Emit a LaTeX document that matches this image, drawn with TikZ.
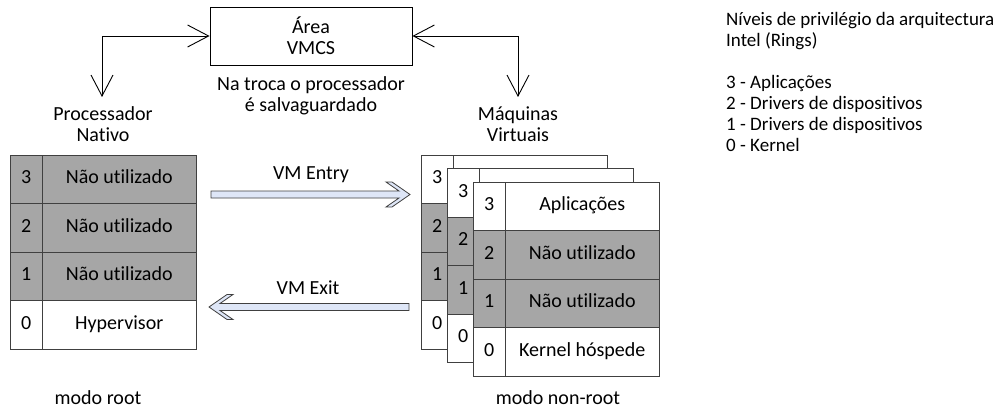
\documentclass[tikz,border=0pt]{standalone}
\usepackage{fontspec}
\setmainfont{Carlito}[Ligatures=NoCommon]
\usetikzlibrary{positioning, arrows.meta}
\definecolor{rowgray}{RGB}{166,166,166}
\definecolor{edgegray}{RGB}{64,64,64}
\definecolor{arrowfill}{RGB}{222,230,247}
\tikzset{
    every node/.style={font=\fontsize{20}{21}\selectfont}, % calibri-like text everywhere
    numcell/.style={draw=edgegray, fill=white, minimum width=32.5pt, minimum height=48.5pt,
        text height=13pt, text depth=4pt, inner sep=0pt, outer sep=0pt}, % ring number
    txtcell/.style={numcell, minimum width=153.5pt}, % ring description
    unused/.style={fill=rowgray}, % grey rows
    link/.style={<->, >={Straight Barb[length=21pt, width=22pt]}, line width=0.9pt},
    pics/vmarrow/.style={code={ % hollow block arrow, tip at the origin, tail at -#1
        \draw[draw=edgegray, fill=arrowfill, line width=0.8pt, line join=miter]
            (0,0) -- (-18,-12.5) -- (-24,-12.5) -- (-11,-3.5) -- (-#1,-3.5)
            -- (-#1,3.5) -- (-11,3.5) -- (-24,12.5) -- (-18,12.5) -- cycle;
    }},
}

\begin{document}
\begin{tikzpicture}[x=1pt, y=-1pt]
    \useasboundingbox (0,0) rectangle (996,417);
    \node[draw, line width=0.9pt, minimum width=202pt, minimum height=58pt, align=center] (vmcs) at (311,36) {Área\\VMCS};
    \node[align=center] (swap) at (311,96) {Na troca o processador\\é salvaguardado};
    \node[align=center] (native) at (103,124) {Processador\\Nativo};
    \node[align=center] (guests) at (518,124) {Máquinas\\Virtuais};
    \coordinate (natarrow) at (102,97);
    \coordinate (vmarrow) at (518,97);
    \draw[link] (natarrow) |- (vmcs.west);
    \draw[link] (vmarrow) |- (vmcs.east);

    % native processor
    \node[numcell, unused, anchor=north west] (nat3) at (10,155) {3};
    \node[txtcell, unused, right=0pt of nat3] (nat3t) {Não utilizado};
    \node[numcell, unused, below=0pt of nat3] (nat2) {2};
    \node[txtcell, unused, right=0pt of nat2] (nat2t) {Não utilizado};
    \node[numcell, unused, below=0pt of nat2] (nat1) {1};
    \node[txtcell, unused, right=0pt of nat1] (nat1t) {Não utilizado};
    \node[numcell, below=0pt of nat1] (nat0) {0};
    \node[txtcell, right=0pt of nat0] (nat0t) {Hypervisor};

    % virtual machines behind
    \foreach \vm/\px/\py in {vmback/421/155, vmmid/447/168.5} {
        \node[numcell, anchor=north west] (\vm3) at (\px,\py) {3};
        \node[txtcell, right=0pt of \vm3] (\vm3t) {};
        \node[numcell, unused, below=0pt of \vm3] (\vm2) {2};
        \node[txtcell, unused, right=0pt of \vm2] (\vm2t) {};
        \node[numcell, unused, below=0pt of \vm2] (\vm1) {1};
        \node[txtcell, unused, right=0pt of \vm1] (\vm1t) {};
        \node[numcell, below=0pt of \vm1] (\vm0) {0};
        \node[txtcell, right=0pt of \vm0] (\vm0t) {};
    }
    \node[numcell, anchor=north west] (vm3) at (473,182) {3};
    \node[txtcell, right=0pt of vm3] (vm3t) {Aplicações};
    \node[numcell, unused, below=0pt of vm3] (vm2) {2};
    \node[txtcell, unused, right=0pt of vm2] (vm2t) {Não utilizado};
    \node[numcell, unused, below=0pt of vm2] (vm1) {1};
    \node[txtcell, unused, right=0pt of vm1] (vm1t) {Não utilizado};
    \node[numcell, below=0pt of vm1] (vm0) {0};
    \node[txtcell, right=0pt of vm0] (vm0t) {Kernel hóspede};

    % transitions
    \node (entry) at (311,175) {VM Entry};
    \node (exit) at (308,288) {VM Exit};
    \coordinate (entrytip) at (410,194.5);
    \coordinate (exittip) at (209,307);
    \pic at (entrytip) {vmarrow=199};
    \pic[xscale=-1] at (exittip) {vmarrow=200};

    \node (rootmode) at (98,398) {modo root};
    \node (guestmode) at (558,398) {modo non-root};
    \node[anchor=north west, align=left, inner sep=0pt, font=\fontsize{19}{21}\selectfont] (rings) at (726,12)
        {Níveis de privilégio da arquitectura\\Intel (Rings)\\[21pt]3 - Aplicações\\2 - Drivers de dispositivos\\1 - Drivers de dispositivos\\0 - Kernel};
\end{tikzpicture}
\end{document}
